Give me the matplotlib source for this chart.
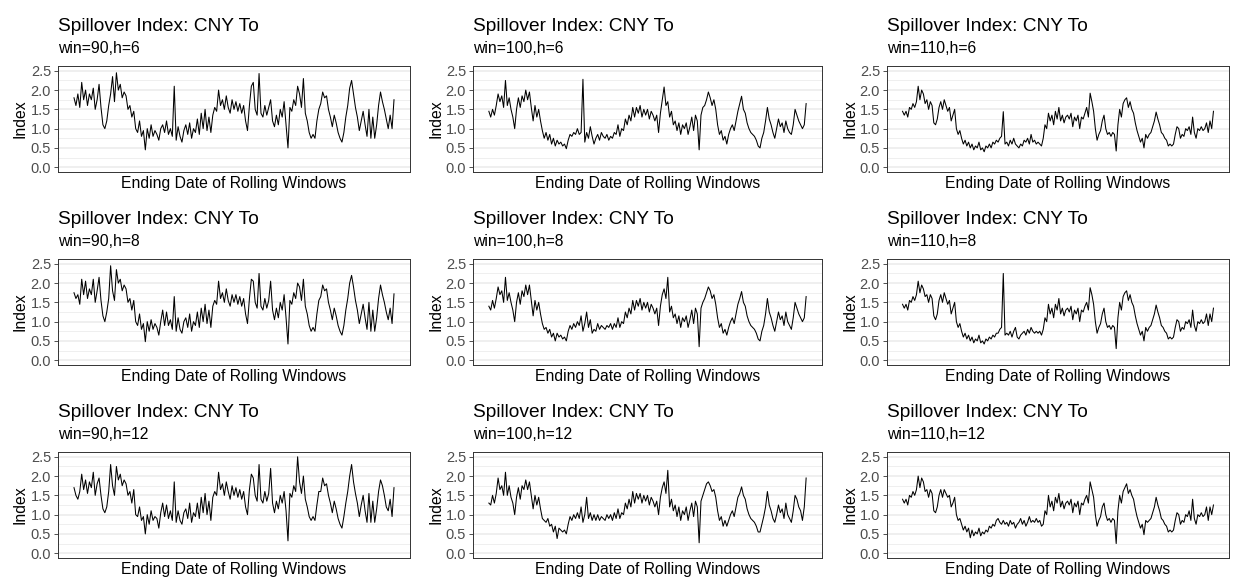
import numpy as np
import matplotlib.pyplot as plt

plt.rcParams['font.family'] = ['Liberation Sans', 'DejaVu Sans']

# spillover index series (CNY To)
s90_6 = [1.8, 1.6, 1.9, 1.55, 2.2, 1.75, 2.0, 1.6, 1.9, 1.75, 2.05, 1.5, 1.75, 2.15, 1.55,
         1.1, 1.0, 1.2, 1.6, 1.9, 2.35, 1.7, 2.45, 2.0, 2.15, 1.8, 1.95, 1.85,
         1.5, 1.6, 1.3, 1.45, 1.0, 0.9, 1.2, 0.8, 0.95, 0.45,
         1.0, 0.75, 1.1, 0.8, 0.95, 0.85, 0.7, 1.0, 1.1, 0.9, 1.2, 0.85, 1.0, 0.8, 2.1,
         0.7, 1.05, 0.8, 0.65, 0.95, 1.1, 0.85, 1.15, 0.75, 1.0, 0.9, 1.25, 0.85, 1.4, 1.0, 1.5, 0.95, 1.3, 0.9,
         1.35, 1.55, 1.45, 2.0, 1.6, 1.75, 1.5, 1.85, 1.55, 1.4, 1.75, 1.5, 1.7, 1.45, 1.65, 1.4, 1.6, 1.2, 0.95,
         1.6, 2.1, 2.2, 1.5, 1.35, 2.43, 1.4, 1.3, 1.6, 1.35, 1.55,
         1.75, 1.2, 1.05, 1.35, 1.1, 1.5, 1.3, 1.7, 1.1, 0.5,
         1.55, 1.45, 1.75, 1.6, 2.1, 1.9, 1.55, 2.3,
         1.4, 1.2, 0.9, 0.75, 0.85, 0.75, 1.2, 1.5,
         1.65, 1.95, 1.8, 1.85, 1.5, 1.3, 1.05, 1.35, 1.15, 0.9, 0.75, 0.65,
         0.9, 1.3, 1.6, 2.05, 2.25, 1.9, 1.55,
         1.3, 0.95, 1.2, 1.45, 1.1, 0.8, 1.5, 0.75, 1.3, 0.75, 1.1, 1.6, 1.95, 1.7, 1.5, 1.25, 1.0, 1.35, 1.0, 1.75]

s90_8 = [1.75, 1.6, 1.7, 1.45, 2.1, 1.7, 2.05, 1.6, 1.85, 1.7, 2.1, 1.5, 1.8, 2.15, 1.55,
         1.15, 1.0, 1.25, 1.6, 2.45, 1.8, 1.55, 2.35, 2.0, 2.1, 1.8, 1.95, 1.85,
         1.5, 1.6, 1.3, 1.55, 1.0, 0.9, 1.2, 0.8, 0.95, 0.48,
         1.0, 0.75, 1.05, 0.8, 0.95, 0.85, 0.65, 1.0, 1.3, 0.9, 1.25, 0.9, 1.05, 0.8, 1.65,
         0.75, 1.1, 0.8, 0.7, 1.0, 1.1, 0.85, 1.2, 0.75, 1.0, 0.9, 1.25, 0.85, 1.35, 1.0, 1.45, 0.95, 1.3, 0.85,
         1.4, 1.55, 1.45, 2.05, 1.6, 1.75, 1.5, 1.85, 1.55, 1.4, 1.7, 1.5, 1.7, 1.45, 1.65, 1.4, 1.6, 1.2, 0.95,
         1.6, 2.1, 2.05, 1.5, 1.35, 2.25, 1.4, 1.3, 1.6, 1.35, 1.55,
         2.05, 1.3, 1.05, 1.35, 1.1, 1.5, 1.3, 1.7, 1.1, 0.42,
         1.55, 1.45, 1.75, 1.6, 2.0, 1.9, 1.55, 2.1,
         1.4, 1.2, 0.9, 0.75, 0.85, 0.75, 1.2, 1.55,
         1.65, 1.95, 1.8, 1.85, 1.5, 1.3, 1.05, 1.35, 1.15, 0.9, 0.75, 0.65,
         0.9, 1.3, 1.6, 2.0, 2.2, 1.9, 1.55,
         1.3, 0.95, 1.2, 1.45, 1.1, 0.8, 1.5, 0.75, 1.3, 0.75, 1.1, 1.6, 1.95, 1.7, 1.5, 1.25, 1.05, 1.35, 0.95, 1.72]

s90_12 = [1.7, 1.5, 1.4, 1.6, 2.05, 1.65, 1.9, 1.55, 1.85, 1.7, 2.1, 1.5, 1.8, 1.95, 1.5,
          1.15, 1.05, 1.2, 1.6, 2.3, 1.75, 1.5, 2.25, 1.9, 2.05, 1.75, 1.9, 1.8,
          1.5, 1.6, 1.3, 1.65, 1.0, 0.95, 1.2, 0.85, 0.95, 0.5,
          1.0, 0.75, 1.1, 0.85, 0.95, 0.9, 0.65, 1.05, 1.3, 0.95, 1.25, 0.9, 1.1, 0.85, 1.85,
          0.8, 1.1, 0.85, 0.75, 1.05, 1.15, 0.9, 1.3, 0.8, 1.05, 0.95, 1.3, 0.9, 1.45, 1.05, 1.55, 1.0, 1.35, 0.85,
          1.45, 1.6, 1.5, 2.1, 1.65, 1.8, 1.5, 1.85, 1.6, 1.4, 1.75, 1.5, 1.7, 1.45, 1.65, 1.4, 1.6, 1.2, 1.0,
          1.65, 2.05, 1.95, 1.5, 1.35, 2.3, 1.4, 1.3, 1.6, 1.35, 1.55,
          2.2, 1.3, 1.05, 1.35, 1.15, 1.5, 1.3, 1.6, 1.1, 0.32,
          1.55, 1.45, 1.75, 1.6, 2.5, 1.85, 1.55, 2.0,
          1.4, 1.2, 0.95, 0.85, 0.95, 0.85, 1.25, 1.6,
          1.6, 1.95, 1.75, 1.8, 1.5, 1.3, 1.05, 1.35, 1.15, 0.9, 0.75, 0.65,
          0.95, 1.3, 1.6, 2.0, 2.3, 1.85, 1.55,
          1.3, 0.95, 1.25, 1.5, 1.1, 0.8, 1.55, 0.8, 1.35, 0.8, 1.15, 1.6, 1.9, 1.75, 1.5, 1.2, 1.1, 1.4, 0.95, 1.7]

s100_6 = [1.45, 1.3, 1.5, 1.35, 1.6, 1.9, 1.7, 1.85, 1.55, 2.25, 1.6, 1.8, 1.5,
          1.3, 1.0, 1.5, 1.8, 1.55, 1.85, 1.7, 2.0, 1.75, 1.95,
          1.55, 1.2, 1.6, 1.3, 1.5, 1.2, 0.95,
          0.75, 0.9, 0.7, 0.85, 0.6, 0.75, 0.55, 0.7, 0.6, 0.65, 0.55, 0.6, 0.48,
          0.7, 0.85, 0.8, 0.9, 0.85, 1.0, 0.85, 0.9, 2.28,
          0.65, 0.9, 0.75, 1.05, 0.8, 0.6, 0.75, 0.85, 0.7, 0.9, 0.8, 0.75, 0.85, 0.7, 0.8, 0.75, 0.9, 0.85,
          1.1, 0.8, 1.0, 0.95, 1.25, 1.1, 1.35, 1.2, 1.55,
          1.3, 1.55, 1.4, 1.6, 1.3, 1.5, 1.35, 1.5, 1.25, 1.45, 1.35, 1.2, 1.35, 0.9,
          1.4, 1.75, 2.08, 1.6, 1.7,
          1.3, 1.45, 1.1, 1.2, 0.95, 1.15, 0.85, 1.1, 1.0, 1.15, 0.85, 1.05, 1.3, 0.95, 1.35, 1.2, 0.45,
          1.35, 1.55, 1.6, 1.75, 1.95, 1.8, 1.6, 1.75, 1.5,
          1.1, 0.85, 0.95, 0.7, 0.8, 0.6, 0.85,
          1.0, 1.1, 0.95, 1.2, 1.45, 1.65, 1.84,
          1.5, 1.4, 1.15, 1.0, 0.9, 0.85, 0.8, 0.7, 0.55, 0.5,
          0.75, 0.9, 1.2, 1.55, 1.25, 1.1, 0.9, 0.75, 1.0, 1.25, 1.05, 1.15, 0.9, 1.2, 1.0,
          0.9, 0.85, 1.1, 1.5, 1.35, 1.2, 1.1, 1.0, 1.1, 1.65]

s100_8 = [1.4, 1.3, 1.55, 1.35, 1.6, 1.9, 1.7, 1.8, 1.5, 2.15, 1.55, 1.75, 1.5,
          1.3, 1.0, 1.5, 1.75, 1.45, 1.8, 1.65, 1.95, 1.7, 1.95,
          1.55, 1.15, 1.55, 1.3, 1.5, 1.2, 0.95,
          0.8, 0.85, 0.7, 0.8, 0.6, 0.7, 0.5, 0.7, 0.6, 0.65, 0.55, 0.6, 0.5,
          0.75, 0.9, 0.8, 0.95, 0.85, 1.0, 0.9, 1.15, 0.75,
          0.95, 1.25, 0.85, 1.05, 0.7, 0.8, 0.75, 0.95, 0.8, 0.9, 0.85, 0.8, 0.9, 0.85, 0.95, 0.8, 0.95, 0.85,
          1.1, 0.85, 1.0, 0.95, 1.25, 1.1, 1.35, 1.2, 1.55,
          1.3, 1.55, 1.4, 1.6, 1.3, 1.5, 1.35, 1.5, 1.25, 1.45, 1.35, 1.2, 1.35, 0.9,
          1.4, 1.7, 1.85, 1.6, 2.15,
          1.25, 1.4, 1.1, 1.2, 0.95, 1.15, 0.85, 1.1, 1.0, 1.15, 0.85, 1.05, 1.3, 0.95, 1.35, 1.2, 0.35,
          1.35, 1.5, 1.6, 1.75, 1.9, 1.8, 1.6, 1.7, 1.45,
          1.1, 0.85, 0.95, 0.7, 0.8, 0.65, 0.85,
          1.0, 1.1, 0.95, 1.2, 1.45, 1.6, 1.78,
          1.5, 1.4, 1.15, 1.0, 0.9, 0.85, 0.8, 0.7, 0.55, 0.5,
          0.75, 0.9, 1.2, 1.6, 1.25, 1.1, 0.9, 0.75, 1.0, 1.25, 1.05, 1.15, 0.9, 1.25, 1.0,
          0.9, 0.8, 1.1, 1.5, 1.35, 1.2, 1.1, 1.0, 1.1, 1.65]

s100_12 = [1.3, 1.25, 1.5, 1.3, 1.55, 1.95, 1.65, 1.75, 1.5, 2.1, 1.5, 1.75, 1.45,
           1.3, 1.0, 1.45, 1.7, 1.4, 1.75, 1.65, 1.9, 1.65, 1.85,
           1.5, 1.15, 1.5, 1.25, 1.45, 1.15, 0.9,
           0.85, 0.8, 0.9, 0.7, 0.75, 0.55, 0.7, 0.38, 0.65, 0.6, 0.55, 0.6, 0.5,
           0.75, 0.95, 0.85, 1.0, 0.9, 1.05, 0.9, 1.2, 0.8,
           1.0, 1.45, 0.9, 1.05, 0.85, 1.0, 0.85, 1.0, 0.85, 0.95, 0.9, 0.85, 1.0, 0.9, 1.0, 0.85, 1.05, 0.9,
           1.15, 0.9, 1.05, 1.0, 1.3, 1.15, 1.4, 1.2, 1.6,
           1.3, 1.55, 1.4, 1.55, 1.3, 1.5, 1.35, 1.5, 1.25, 1.45, 1.35, 1.2, 1.35, 1.0,
           1.45, 1.7, 1.85, 1.55, 2.15,
           1.2, 1.4, 1.1, 1.25, 0.95, 1.2, 0.85, 1.1, 1.0, 1.2, 0.85, 1.1, 1.3, 0.95, 1.35, 1.2, 0.27,
           1.35, 1.5, 1.65, 1.8, 1.85, 1.75, 1.6, 1.65, 1.45,
           1.1, 0.85, 0.95, 0.7, 0.85, 0.7, 0.85,
           1.0, 1.1, 0.95, 1.2, 1.45, 1.55, 1.72,
           1.5, 1.4, 1.15, 1.0, 0.9, 0.85, 0.8, 0.7, 0.55, 0.55,
           0.75, 0.95, 1.2, 1.6, 1.25, 1.1, 0.9, 0.8, 1.0, 1.25, 1.05, 1.15, 0.9, 1.3, 1.0,
           0.9, 0.8, 1.1, 1.5, 1.4, 1.2, 1.1, 0.85, 1.2, 1.95]

s110_6 = [1.45, 1.35, 1.45, 1.3, 1.55, 1.5, 1.65, 1.55, 1.7, 2.1, 1.75, 2.0, 1.9,
          1.65, 1.75, 1.5, 1.7, 1.6, 1.15, 1.1, 1.25,
          1.55, 1.7, 1.5, 1.75, 1.6, 1.45, 1.55, 1.2, 1.35, 1.5, 1.0,
          0.85, 0.95, 0.75, 0.6, 0.7, 0.55, 0.65, 0.5,
          0.6, 0.45, 0.55, 0.5, 0.65, 0.45, 0.5, 0.4, 0.55, 0.5, 0.6, 0.5, 0.65, 0.6, 0.7, 0.65, 0.75, 0.8, 1.44,
          0.6, 0.65, 0.55, 0.7, 0.6, 0.75, 0.6, 0.55, 0.5, 0.6, 0.55, 0.7, 0.65, 0.75, 0.6, 0.85, 0.65, 0.7, 0.6,
          0.65, 0.6, 0.55, 0.75, 1.1, 1.0,
          1.4, 1.2, 1.35, 1.1, 1.45, 1.25, 1.55, 1.2, 1.35,
          1.15, 1.3, 1.35, 1.25, 1.4, 1.05, 1.3, 1.2, 1.35, 1.0, 1.3, 1.25, 1.4, 1.55, 1.3,
          1.92, 1.7, 1.45,
          1.0, 0.7, 0.85, 0.95, 1.2, 1.35, 1.0, 0.85, 0.9, 0.8, 0.9, 0.85, 0.42,
          1.1, 1.5, 1.3, 1.65, 1.75, 1.8, 1.55, 1.7, 1.5,
          1.4, 1.15, 0.95, 0.8, 0.65, 0.75, 0.5, 0.85, 0.75,
          0.85, 0.9, 1.05, 1.2, 1.43,
          1.25, 1.1, 0.9, 0.85, 0.75, 0.7, 0.55, 0.6, 0.55, 0.6,
          0.85, 1.05, 1.0, 0.75, 0.85, 0.8, 1.0, 0.95, 1.05, 0.85, 1.3, 0.9, 0.75, 1.0,
          0.95, 1.05, 0.95, 1.0, 1.15, 0.9, 1.2, 1.0, 1.45]

s110_8 = [1.45, 1.35, 1.45, 1.3, 1.55, 1.5, 1.65, 1.55, 1.7, 2.05, 1.75, 1.95, 1.85,
          1.65, 1.7, 1.5, 1.7, 1.6, 1.15, 1.05, 1.2,
          1.55, 1.7, 1.5, 1.75, 1.6, 1.45, 1.55, 1.2, 1.35, 1.5, 1.0,
          0.85, 0.95, 0.75, 0.6, 0.7, 0.55, 0.65, 0.5,
          0.6, 0.45, 0.55, 0.5, 0.65, 0.45, 0.5, 0.42, 0.55, 0.5, 0.6, 0.55, 0.65, 0.6, 0.7, 0.7, 0.8, 0.85, 2.25,
          0.65, 0.7, 0.65, 0.75, 0.6, 0.75, 0.85, 0.6, 0.55, 0.65, 0.7, 0.75, 0.65, 0.8, 0.7, 0.85, 0.75, 0.7, 0.75,
          0.7, 0.75, 0.65, 0.8, 1.1, 1.0,
          1.45, 1.2, 1.35, 1.1, 1.45, 1.3, 1.6, 1.2, 1.35,
          1.15, 1.3, 1.35, 1.25, 1.4, 1.05, 1.3, 1.2, 1.35, 1.0, 1.3, 1.25, 1.4, 1.5, 1.3,
          1.88, 1.7, 1.45,
          1.0, 0.7, 0.85, 0.95, 1.2, 1.35, 1.0, 0.85, 0.9, 0.8, 0.9, 0.85, 0.3,
          1.1, 1.5, 1.3, 1.65, 1.75, 1.8, 1.55, 1.7, 1.5,
          1.4, 1.15, 0.95, 0.8, 0.65, 0.75, 0.5, 0.85, 0.75,
          0.85, 0.9, 1.05, 1.2, 1.43,
          1.25, 1.1, 0.9, 0.85, 0.75, 0.7, 0.55, 0.6, 0.55, 0.6,
          0.85, 1.05, 1.0, 0.75, 0.85, 0.8, 1.0, 0.95, 1.05, 0.85, 1.3, 0.9, 0.75, 1.0,
          0.95, 1.05, 0.95, 1.0, 1.2, 0.9, 1.2, 1.0, 1.35]

s110_12 = [1.4, 1.3, 1.4, 1.25, 1.5, 1.45, 1.6, 1.5, 1.65, 2.0, 1.7, 1.95, 1.85,
           1.6, 1.65, 1.45, 1.65, 1.55, 1.1, 1.05, 1.2,
           1.5, 1.65, 1.45, 1.65, 1.55, 1.45, 1.5, 1.2, 1.3, 1.45, 1.0,
           0.85, 0.9, 0.75, 0.6, 0.7, 0.55, 0.65, 0.4,
           0.6, 0.45, 0.55, 0.5, 0.65, 0.45, 0.55, 0.5, 0.6, 0.55, 0.7, 0.65, 0.75, 0.7, 0.85, 0.9, 0.8, 0.75, 0.85,
           0.75, 0.8, 0.7, 0.85, 0.75, 0.8, 0.65, 0.75, 0.8, 0.9, 0.75, 0.85, 0.7, 0.8, 0.95, 0.8, 0.85, 0.8, 0.9,
           0.8, 0.85, 0.7, 0.75, 1.1, 1.0,
           1.5, 1.2, 1.35, 1.1, 1.45, 1.3, 1.55, 1.2, 1.35,
           1.15, 1.3, 1.35, 1.25, 1.4, 1.05, 1.3, 1.2, 1.35, 1.0, 1.3, 1.25, 1.4, 1.5, 1.3,
           1.85, 1.65, 1.45,
           1.0, 0.7, 0.85, 0.95, 1.2, 1.3, 1.0, 0.85, 0.9, 0.8, 0.9, 0.85, 0.25,
           1.1, 1.5, 1.3, 1.6, 1.7, 1.8, 1.55, 1.65, 1.5,
           1.4, 1.15, 0.95, 0.8, 0.65, 0.75, 0.48, 0.85, 0.8,
           0.85, 0.9, 1.05, 1.2, 1.45,
           1.25, 1.1, 0.9, 0.85, 0.75, 0.7, 0.55, 0.6, 0.55, 0.6,
           0.85, 1.05, 1.0, 0.75, 0.85, 0.8, 1.0, 0.95, 1.1, 0.85, 1.4, 0.9, 0.75, 1.0,
           0.95, 1.05, 0.95, 1.0, 1.2, 0.85, 1.2, 1.0, 1.25]

wins = [90, 100, 110]
hs = [6, 8, 12]
series = [[s90_6, s100_6, s110_6],
          [s90_8, s100_8, s110_8],
          [s90_12, s100_12, s110_12]]

W, H = 1233, 579
fig = plt.figure(figsize=(W / 100, H / 100), dpi=100)

# panel edges in pixels
col_left = [58, 473, 887]
col_right = [410, 822, 1229]
ylab_x = [20, 436, 850]
row_off = [0, 193, 386]

for r in range(3):
    for c in range(3):
        top = 66 + row_off[r]
        bot = 172 + row_off[r]
        l, rr = col_left[c], col_right[c]
        ax = fig.add_axes([l / W, 1 - bot / H, (rr - l) / W, (bot - top) / H])
        y = series[r][c]
        ax.plot(np.arange(len(y)), y, color='black', lw=0.75)
        ax.set_ylim(-0.125, 2.625)
        ax.margins(x=0.05)
        ax.set_yticks(np.arange(0, 2.51, 0.5))
        ax.set_yticks(np.arange(0.25, 2.6, 0.5), minor=True)
        ax.set_yticklabels(['0.0', '0.5', '1.0', '1.5', '2.0', '2.5'])
        ax.set_xticks([])
        ax.grid(axis='y', which='major', color='#EBEBEB', lw=1.1)
        ax.grid(axis='y', which='minor', color='#EBEBEB', lw=0.55)
        ax.set_axisbelow(True)
        ax.tick_params(axis='y', which='major', length=3, width=0.6, color='#333333',
                       labelsize=10.5, labelcolor='#4D4D4D', pad=2)
        ax.tick_params(axis='y', which='minor', length=0)
        for sp in ax.spines.values():
            sp.set_color('#333333')
            sp.set_linewidth(0.7)

        fig.text(l / W, 1 - (31 + row_off[r]) / H, 'Spillover Index: CNY To',
                 fontsize=13.8, va='baseline', ha='left')
        fig.text(l / W, 1 - (53 + row_off[r]) / H, f'win={wins[c]},h={hs[r]}',
                 fontsize=11.3, va='baseline', ha='left')
        fig.text((l + rr) / 2 / W, 1 - (188 + row_off[r]) / H, 'Ending Date of Rolling Windows',
                 fontsize=11.3, va='baseline', ha='center')
        fig.text(ylab_x[c] / W, 1 - (top + bot) / 2 / H, 'Index',
                 fontsize=11.3, rotation=90, va='center', ha='center')

fig.savefig('out.png', dpi=100)
